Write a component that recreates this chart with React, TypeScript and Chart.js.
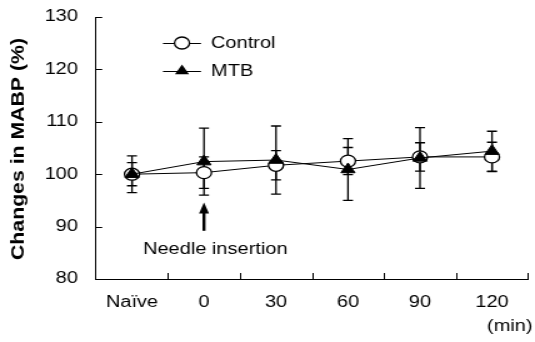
import React, { useEffect, useRef } from 'react';
import { Chart, registerables } from 'chart.js';

Chart.register(...registerables);

// ---- data ----
const categories = ['Naïve', '0', '30', '60', '90', '120'];
const controlValues = [100, 100.3, 101.7, 102.5, 103.3, 103.3];
const controlErrors = [2.2, 3.0, 2.8, 2.6, 2.7, 2.8];
const mtbValues = [100, 102.4, 102.7, 100.9, 103.1, 104.4];
const mtbErrors = [3.5, 6.4, 6.5, 5.9, 5.8, 3.8];
const yTicks = [80, 90, 100, 110, 120, 130];
const legendLabels = ['Control', 'MTB'];
const yTitle = 'Changes in MABP (%)';
const xUnit = '(min)';
const annotationText = 'Needle insertion';
const annotationIndex = 1;

// ---- layout ----
const SX = 1.25; // horizontal stretch of the reference
const W = 428;
const H = 342;
const FONT = '"Liberation Sans", Arial, sans-serif';

function drawTriangle(ctx: CanvasRenderingContext2D, x: number, y: number, r: number) {
  let rad = 0;
  ctx.beginPath();
  ctx.moveTo(x + Math.sin(rad) * r, y - Math.cos(rad) * r);
  rad += (2 * Math.PI) / 3;
  ctx.lineTo(x + Math.sin(rad) * r, y - Math.cos(rad) * r);
  rad += (2 * Math.PI) / 3;
  ctx.lineTo(x + Math.sin(rad) * r, y - Math.cos(rad) * r);
  ctx.closePath();
}

const errorsByDataset = [controlErrors, mtbErrors];
const valuesByDataset = [controlValues, mtbValues];

const overlay = {
  id: 'overlay',
  beforeDatasetsDraw(chart: any) {
    const ctx = chart.ctx as CanvasRenderingContext2D;
    const y = chart.scales.y;
    ctx.save();
    ctx.strokeStyle = '#000';
    ctx.lineWidth = 1.3;
    for (let d = 0; d < 2; d++) {
      const meta = chart.getDatasetMeta(d);
      meta.data.forEach((pt: any, i: number) => {
        const v = valuesByDataset[d][i];
        const e = errorsByDataset[d][i];
        const yt = y.getPixelForValue(v + e);
        const yb = y.getPixelForValue(v - e);
        const x = pt.x;
        ctx.beginPath();
        ctx.moveTo(x, yt);
        ctx.lineTo(x, yb);
        ctx.moveTo(x - 4, yt);
        ctx.lineTo(x + 4, yt);
        ctx.moveTo(x - 4, yb);
        ctx.lineTo(x + 4, yb);
        ctx.stroke();
      });
    }
    ctx.restore();
  },
  afterDraw(chart: any) {
    const ctx = chart.ctx as CanvasRenderingContext2D;
    const xs = chart.scales.x;
    const ys = chart.scales.y;
    const area = chart.chartArea;
    ctx.save();
    ctx.strokeStyle = '#000';
    ctx.fillStyle = '#000';
    ctx.lineWidth = 1;
    // inward ticks on y
    yTicks.forEach((v) => {
      if (v === yTicks[0]) return;
      const py = Math.round(ys.getPixelForValue(v)) + 0.5;
      ctx.beginPath();
      ctx.moveTo(area.left, py);
      ctx.lineTo(area.left + 5, py);
      ctx.stroke();
    });
    // inward ticks on x at category boundaries
    for (let i = 0; i < categories.length; i++) {
      const a = xs.getPixelForValue(i);
      const b = i < categories.length - 1 ? xs.getPixelForValue(i + 1) : a + (a - xs.getPixelForValue(i - 1));
      const px = Math.round((a + b) / 2) + 0.5;
      ctx.beginPath();
      ctx.moveTo(px, area.bottom);
      ctx.lineTo(px, area.bottom - 6);
      ctx.stroke();
    }
    // legend
    const legendYs = [43, 71];
    legendLabels.forEach((label, i) => {
      const ly = legendYs[i];
      ctx.lineWidth = 1;
      ctx.beginPath();
      ctx.moveTo(130.4, ly + 0.5);
      ctx.lineTo(160.8, ly + 0.5);
      ctx.stroke();
      if (i === 0) {
        ctx.beginPath();
        ctx.arc(145.6, ly, 6, 0, Math.PI * 2);
        ctx.fillStyle = '#fff';
        ctx.fill();
        ctx.lineWidth = 1.3;
        ctx.stroke();
      } else {
        drawTriangle(ctx, 145.6, ly, 6.5);
        ctx.fillStyle = '#000';
        ctx.fill();
      }
      ctx.fillStyle = '#000';
      ctx.font = `16px ${FONT}`;
      ctx.textAlign = 'left';
      ctx.textBaseline = 'middle';
      ctx.fillText(label, 168.8, ly + 1);
    });
    // arrow annotation
    const ax = xs.getPixelForValue(annotationIndex);
    const headTop = ys.getPixelForValue(94.6);
    const headBase = ys.getPixelForValue(92.5);
    const shaftEnd = ys.getPixelForValue(89.2);
    ctx.beginPath();
    ctx.moveTo(ax, headTop);
    ctx.lineTo(ax + 4, headBase);
    ctx.lineTo(ax - 4, headBase);
    ctx.closePath();
    ctx.fill();
    ctx.fillRect(ax - 1.2, headBase - 1, 2.4, shaftEnd - headBase + 1);
    ctx.font = `16px ${FONT}`;
    ctx.textAlign = 'left';
    ctx.textBaseline = 'alphabetic';
    ctx.fillText(annotationText, ax - 48.8, 254);
    // x unit
    ctx.textAlign = 'right';
    ctx.textBaseline = 'middle';
    ctx.fillText(xUnit, W - 2, 327);
    // y title (undo horizontal stretch)
    ctx.save();
    ctx.translate(14.8, 149);
    ctx.scale(1 / SX, 1);
    ctx.rotate(-Math.PI / 2);
    ctx.font = `bold 19px ${FONT}`;
    const tw = ctx.measureText(yTitle).width;
    ctx.scale(222 / tw, 1);
    ctx.textAlign = 'center';
    ctx.textBaseline = 'middle';
    ctx.fillText(yTitle, 0, 0);
    ctx.restore();
    ctx.restore();
  },
};

export default function App() {
  const ref = useRef<HTMLCanvasElement>(null);
  useEffect(() => {
    const chart = new Chart(ref.current!, {
      type: 'line',
      data: {
        labels: categories,
        datasets: [
          {
            label: legendLabels[0],
            data: controlValues,
            borderColor: '#000',
            borderWidth: 1,
            pointStyle: 'circle',
            pointRadius: 6,
            pointBackgroundColor: '#fff',
            pointBorderColor: '#000',
            pointBorderWidth: 1.3,
            order: 1,
          },
          {
            label: legendLabels[1],
            data: mtbValues,
            borderColor: '#000',
            borderWidth: 1,
            pointStyle: 'triangle',
            pointRadius: 6.5,
            pointBackgroundColor: '#000',
            pointBorderColor: '#000',
            pointBorderWidth: 1,
            order: 0,
          },
        ],
      },
      options: {
        responsive: false,
        animation: false,
        devicePixelRatio: 1,
        layout: { autoPadding: false, padding: { top: 17, right: 5.6, left: 0, bottom: 0 } },
        plugins: { legend: { display: false }, tooltip: { enabled: false } },
        scales: {
          x: {
            type: 'category',
            offset: true,
            grid: { display: false, drawTicks: false, offset: true },
            border: { display: true, color: '#000', width: 1 },
            ticks: { color: '#000', font: { family: FONT, size: 16 }, padding: 14, maxRotation: 0, autoSkip: false },
            afterFit: (s: any) => {
              s.height = 63;
              s.paddingLeft = 0;
              s.paddingRight = 0;
            },
          },
          y: {
            min: yTicks[0],
            max: yTicks[yTicks.length - 1],
            afterBuildTicks: (s: any) => { s.ticks = yTicks.map((v) => ({ value: v })); },
            grid: { display: false, drawTicks: false },
            border: { display: true, color: '#000', width: 1 },
            ticks: { color: '#000', font: { family: FONT, size: 16 }, padding: 14.4 },
            afterFit: (s: any) => {
              s.width = 76.8;
              s.paddingTop = 0;
              s.paddingBottom = 0;
            },
          },
        },
      },
      plugins: [overlay],
    });
    return () => chart.destroy();
  }, []);
  return (
    <div style={{ position: 'absolute', left: 0, top: 0, width: 535, height: 342, overflow: 'hidden', background: '#fff' }}>
      <canvas
        ref={ref}
        width={W}
        height={H}
        style={{ display: 'block', transform: `scaleX(${SX})`, transformOrigin: '0 0' }}
      />
    </div>
  );
}
